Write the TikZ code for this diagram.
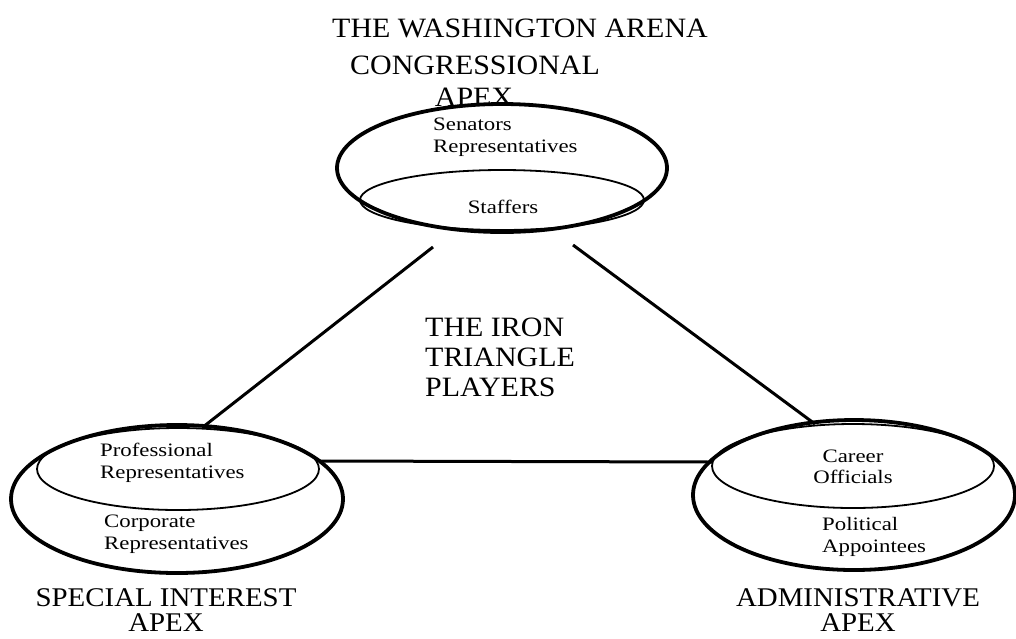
\documentclass[tikz,border=0pt]{standalone}
\usepackage{fontspec}
\setmainfont{Liberation Serif}
\newcommand\bw[1]{\scalebox{1.07}[1]{#1}}
\newcommand\sw[1]{\scalebox{1.2}[1]{#1}}
\begin{document}
\begin{tikzpicture}[x=1pt,y=-1pt,
  inner/.style={draw=black,line width=1.8pt},
  outer/.style={draw=black,line width=3.8pt},
  link/.style={draw=black,line width=3pt},
  big/.style={font=\fontsize{28}{30}\selectfont,inner sep=0pt},
  bigtight/.style={font=\fontsize{27}{25}\selectfont,inner sep=0pt,align=center,anchor=north},
  small/.style={font=\fontsize{19}{21.5}\selectfont,inner sep=0pt}]
\useasboundingbox (0,0) rectangle (1016,638);
% ellipses
\draw[inner] (502,200) ellipse [x radius=142, y radius=30];
\draw[outer] (502,168) ellipse [x radius=165, y radius=64];
\draw[inner] (178,469) ellipse [x radius=141, y radius=41];
\draw[outer] (177,499) ellipse [x radius=166, y radius=74];
\draw[inner] (853,466) ellipse [x radius=141, y radius=42];
\draw[outer] (854,495) ellipse [x radius=161, y radius=75];
% corner coordinates
\coordinate (t1) at (433,247);
\coordinate (t2) at (573,245);
\coordinate (l1) at (203,427);
\coordinate (l2) at (320,461);
\coordinate (r1) at (815,424);
\coordinate (r2) at (712,462);
\draw[link] (t1) -- (l1);
\draw[link] (t2) -- (r1);
\draw[link] (l2) -- (r2);
% texts
\node[big] (arena) at (520,28) {\bw{THE WASHINGTON ARENA}};
\node[big] (cong) at (475,65) {\bw{CONGRESSIONAL}};
\node[big] (capex) at (474,97) {\bw{APEX}};
\node[small,align=left,anchor=west] (sen) at (433,137) {\sw{Senators}\\\sw{Representatives}};
\node[small] (staff) at (503,207) {\sw{Staffers}};
\node[big,align=left,anchor=west] (iron) at (425,357) {\bw{THE IRON}\\\bw{TRIANGLE}\\\bw{PLAYERS}};
\node[small,align=left,anchor=west] (prof) at (100,463) {\sw{Professional}\\\sw{Representatives}};
\node[small,align=left,anchor=west] (corp) at (104,534) {\sw{Corporate}\\\sw{Representatives}};
\node[bigtight] (spec) at (166,588) {\bw{SPECIAL INTEREST}\\\bw{APEX}};
\node[small,align=center] (car) at (853,467) {\sw{Career}\\\sw{Officials}};
\node[small,align=left,anchor=west] (pol) at (822,537) {\sw{Political}\\\sw{Appointees}};
\node[bigtight] (adm) at (858,588) {\bw{ADMINISTRATIVE}\\\bw{APEX}};
\end{tikzpicture}
\end{document}
